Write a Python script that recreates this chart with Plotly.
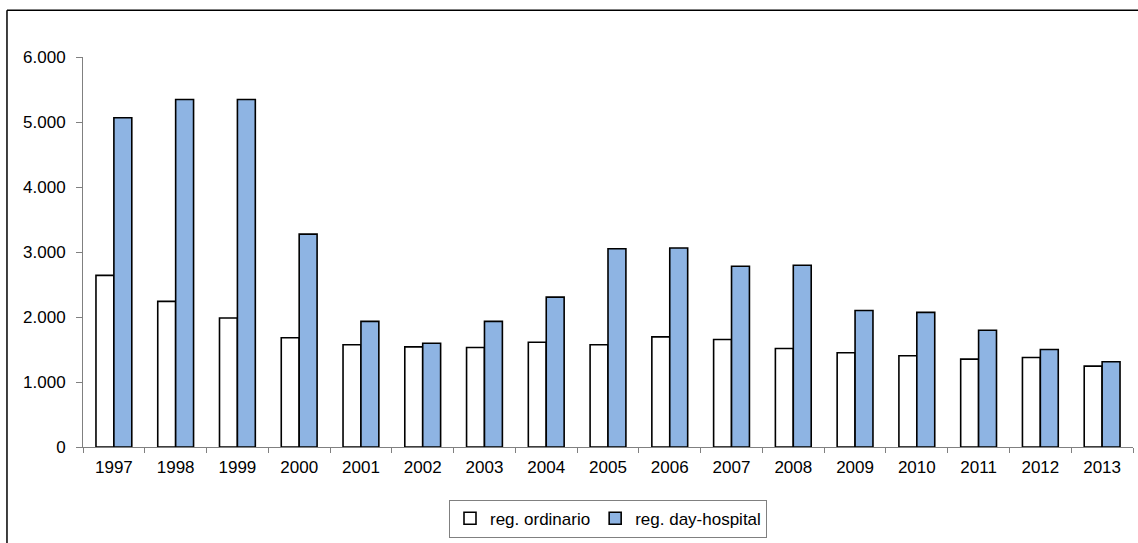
import plotly.graph_objects as go

years = [str(y) for y in range(1997, 2014)]
ordinario = [2640, 2240, 1985, 1680, 1572, 1541, 1531, 1612, 1572, 1694,
             1653, 1515, 1449, 1405, 1352, 1378, 1245]
day_hospital = [5065, 5347, 5347, 3275, 1933, 1597, 1933, 2306, 3051, 3061,
                2781, 2796, 2100, 2071, 1796, 1500, 1312]
y_ticks = [0, 1000, 2000, 3000, 4000, 5000, 6000]

font = dict(family="Liberation Sans, Arial, sans-serif", size=17, color="#000000")

fig = go.Figure()
fig.add_trace(go.Bar(
    x=years, y=ordinario, name="reg. ordinario",
    marker=dict(color="#FFFFFF", line=dict(color="#000000", width=1.6)),
))
fig.add_trace(go.Bar(
    x=years, y=day_hospital, name="reg. day-hospital",
    marker=dict(color="#8EB4E3", line=dict(color="#000000", width=1.6)),
))

fig.update_layout(
    width=1138, height=543,
    margin=dict(l=83, r=5, t=57, b=94),
    paper_bgcolor="#FFFFFF", plot_bgcolor="#FFFFFF",
    barmode="group", bargap=0.42, bargroupgap=0.0,
    separators=",.",
    font=font,
    showlegend=True,
    legend=dict(
        orientation="h", x=0.5, xanchor="center", y=-0.184, yanchor="middle",
        bordercolor="#808080", borderwidth=1, bgcolor="#FFFFFF",
        font=dict(family="Liberation Sans, Arial, sans-serif", size=17),
        itemwidth=30, traceorder="normal",
    ),
    xaxis=dict(
        type="category", showgrid=False, showline=True, linecolor="#808080",
        linewidth=1, ticks="outside", tickson="boundaries", ticklen=5,
        tickcolor="#808080", tickfont=font, ticklabelstandoff=5,
    ),
    yaxis=dict(
        range=[0, 6000], tickvals=y_ticks, tickformat=",d", showgrid=False,
        showline=True, linecolor="#808080", linewidth=1, ticks="outside",
        ticklen=6, tickcolor="#808080", tickfont=font, zeroline=False,
        ticklabelstandoff=7,
    ),
    shapes=[
        # outer frame: top and left edges
        dict(type="line", xref="paper", yref="paper", x0=-0.0724, x1=1.01,
             y0=1.12, y1=1.12, line=dict(color="#000000", width=1.5)),
        dict(type="line", xref="paper", yref="paper", x0=-0.0724, x1=-0.0724,
             y0=1.12, y1=-0.25, line=dict(color="#000000", width=1.5)),
    ],
)

fig.write_html("out.html")
